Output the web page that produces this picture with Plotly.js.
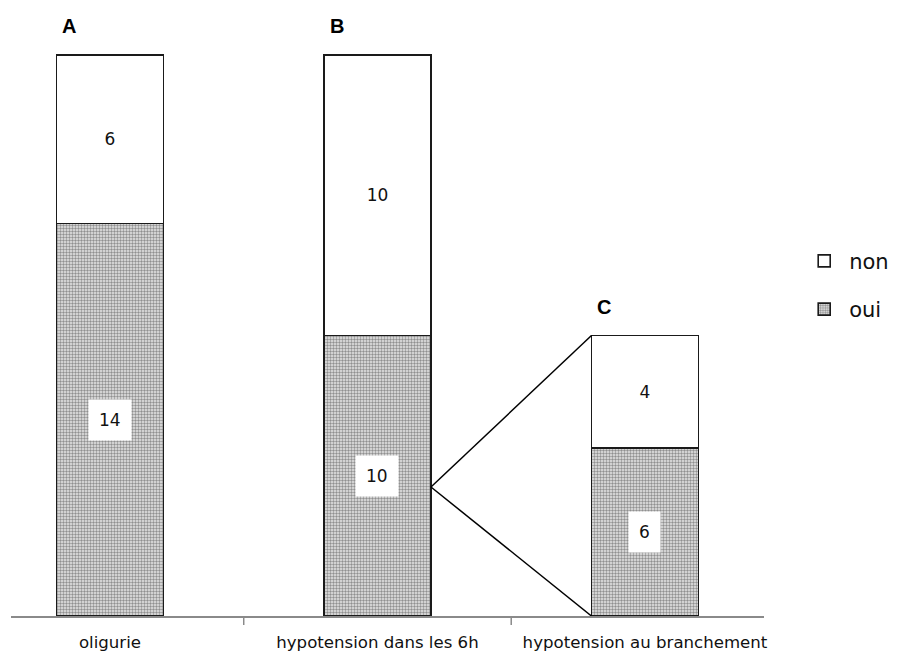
<!DOCTYPE html>
<html>
<head>
<meta charset="utf-8">
<script src="https://cdn.plot.ly/plotly-3.0.1.min.js"></script>
<style>
  html, body { margin: 0; padding: 0; background: #ffffff; }
  #chart { width: 900px; height: 655px; }
</style>
</head>
<body>
<div id="chart"></div>
<script>
// Categories and counts per answer
const categories = ['oligurie', 'hypotension dans les 6h', 'hypotension au branchement'];
const panelLetters = ['A', 'B', 'C'];
const oui = [14, 10, 6];
const non = [6, 10, 4];

const xs = categories.map((_, i) => i);
const barWidth = 0.4;
const joinFrac = 0.46;   // where the breakdown lines leave bar B (fraction of its "oui" height)
const FONT = 'DejaVu Sans, Verdana, sans-serif';
const outline = { color: '#1a1a1a', width: 1.6 };

const traceOui = {
  type: 'bar', name: 'oui', x: xs, y: oui, width: barWidth,
  legendgroup: 'g_oui', legendrank: 2,
  marker: {
    color: '#e4e4e4',
    line: outline,
    pattern: { shape: '.', fgcolor: '#909090', bgcolor: '#e8e8e8', size: 3, solidity: 0.5 }
  },
  hoverinfo: 'skip'
};

const traceNon = {
  type: 'bar', name: 'non', x: xs, y: non, width: barWidth,
  legendgroup: 'g_non', legendrank: 1,
  marker: { color: '#ffffff', line: outline },
  text: non.map(String),
  textposition: 'inside', insidetextanchor: 'middle',
  textfont: { family: FONT, size: 17, color: '#111' },
  hoverinfo: 'skip'
};

// Value labels for the "oui" segments, on a white box
const ouiLabels = xs.map(i => ({
  x: i, y: oui[i] / 2, xref: 'x', yref: 'y',
  text: String(oui[i]), showarrow: false,
  font: { family: FONT, size: 17, color: '#111' },
  bgcolor: '#ffffff', borderpad: 10
}));

// Panel letters above each bar
const letterLabels = xs.map(i => ({
  x: i - barWidth / 2, y: oui[i] + non[i], xref: 'x', yref: 'y',
  xanchor: 'left', yanchor: 'bottom', xshift: 4, yshift: 16,
  text: '<b>' + panelLetters[i] + '</b>', showarrow: false,
  font: { family: 'Liberation Sans, Arial, sans-serif', size: 20, color: '#000' }
}));

// Lines opening bar B's "oui" part into bar C
const joinY = oui[1] * joinFrac;
const cTop = oui[2] + non[2];
const shapes = [
  { type: 'line', xref: 'x', yref: 'y', x0: 1 + barWidth / 2, y0: joinY, x1: 2 - barWidth / 2, y1: cTop,
    line: { color: '#000', width: 1.5 } },
  { type: 'line', xref: 'x', yref: 'y', x0: 1 + barWidth / 2, y0: joinY, x1: 2 - barWidth / 2, y1: 0,
    line: { color: '#000', width: 1.5 } }
];
// Separators between categories on the axis
[0.5, 1.5].forEach(v => shapes.push({
  type: 'line', xref: 'x', yref: 'paper', ysizemode: 'pixel', yanchor: 0,
  x0: v, x1: v, y0: 0, y1: -9, line: { color: '#8a8a8a', width: 1.5 }
}));

const layout = {
  width: 900, height: 655,
  margin: { l: 11, r: 136, t: 20, b: 39, autoexpand: false },
  paper_bgcolor: '#ffffff', plot_bgcolor: '#ffffff',
  barmode: 'stack',
  showlegend: true,
  legend: {
    xref: 'container', x: 0.888, xanchor: 'left', y: 0.555, yanchor: 'middle',
    traceorder: 'grouped', tracegroupgap: 18,
    itemwidth: 40,
    font: { family: FONT, size: 21, color: '#111' },
    bgcolor: 'rgba(0,0,0,0)'
  },
  xaxis: {
    range: [-0.37, 2.445],
    tickvals: xs, ticktext: categories,
    ticks: '', showgrid: false, zeroline: false,
    showline: true, linecolor: '#8a8a8a', linewidth: 2,
    tickfont: { family: FONT, size: 16.6, color: '#111' },
    ticklabelstandoff: 10,
    fixedrange: true
  },
  yaxis: {
    range: [0, 21.25],
    visible: false, showgrid: false, zeroline: false, fixedrange: true
  },
  annotations: ouiLabels.concat(letterLabels),
  shapes: shapes
};

Plotly.newPlot('chart', [traceOui, traceNon], layout, { displayModeBar: false, staticPlot: true });
</script>
</body>
</html>
